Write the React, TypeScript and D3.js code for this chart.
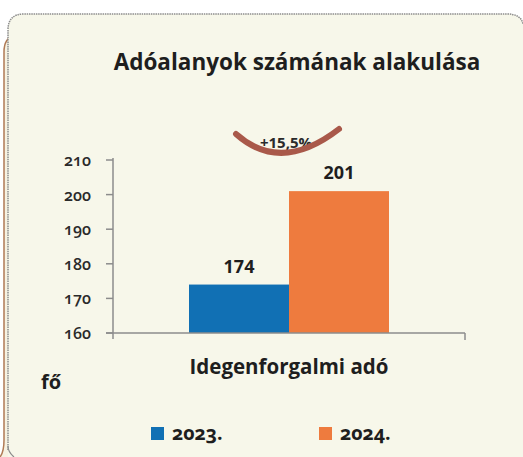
import React from 'react';
import * as d3 from 'd3';

// chart data
const categories = ['Idegenforgalmi adó'];
const years = ['2023.', '2024.'];
const values2023 = [174];
const values2024 = [201];
const yTicks = [160, 170, 180, 190, 200, 210];
const changeLabel = '+15,5%';

const colors = ['#1170b4', '#ee7b3e'];
const font = '"Open Sans", Lato, sans-serif';

const App = () => {
  const width = 523;
  const height = 457;
  const margin = { top: 160, right: 58, bottom: 124, left: 113 };

  const yScale = d3.scaleLinear().domain([160, 210]).range([height - margin.bottom, margin.top]);
  const x0 = d3.scaleBand().domain(categories).range([margin.left, width - margin.right]);
  const x1 = d3.scaleBand().domain(years).range([0, x0.bandwidth()]).paddingInner(0).paddingOuter(0.76);

  const series = [values2023, values2024];
  const baseY = yScale(160);
  const cx = x0(categories[0]) + x0.bandwidth() / 2;

  // arc over the bars showing the change
  const arcPath = d3.path();
  arcPath.moveTo(cx - 53, 134);
  arcPath.quadraticCurveTo(cx - 8, 174, cx + 50, 129);

  return (
    <svg width={width} height={height} style={{ position: 'absolute', left: 0, top: 0 }}>
      <rect x={0} y={0} width={width} height={height} fill="#ffffff" />
      {/* outer brown edge of the neighbouring box */}
      <path d="M 14,36 Q 4,38 4,52 L 4,440 Q 4,452 0,457 L 0,457 L 14,457 Z" fill="#f6f2e2" />
      <path d="M 14,36 Q 4,38 4,52 L 4,440 Q 4,452 0,457" fill="none" stroke="#b07a55" strokeWidth={1.5} />
      {/* main panel */}
      <path d="M 8,457 L 8,30 Q 8,14 24,14 L 507,14 Q 521,14 523,24 L 523,457 Z" fill="#f7f7ea" />
      <path d="M 8,450 L 8,30 Q 8,14 24,14 L 507,14 Q 521,14 523,24" fill="none" stroke="#8d8d8d" strokeWidth={1.5} strokeDasharray="1.5 0.8" />
      <path d="M 8,446 Q 8,452 14,457" fill="none" stroke="#8d8d8d" strokeWidth={1.2} />

      <text x={297} y={70} textAnchor="middle" fontFamily={font} fontWeight={700} fontSize={22.5} fill="#1e1e1e">
        Adóalanyok számának alakulása
      </text>

      {/* bars */}
      {series.map((vals, si) =>
        categories.map((c, ci) => {
          const x = x0(c) + x1(years[si]);
          const y = yScale(vals[ci]);
          return (
            <g key={`${si}-${ci}`}>
              <rect x={x} y={y} width={x1.bandwidth()} height={baseY - y} fill={colors[si]} />
              <text x={x + x1.bandwidth() / 2} y={y - 12} textAnchor="middle" fontFamily={font} fontWeight={700} fontSize={18} fill="#1e1e1e">
                {vals[ci]}
              </text>
            </g>
          );
        })
      )}

      {/* y axis */}
      <line x1={margin.left} x2={margin.left} y1={yScale(210) - 2} y2={baseY + 6} stroke="#8c8c8c" strokeWidth={1.5} />
      {yTicks.map((t) => (
        <g key={t}>
          <line x1={margin.left - 7} x2={margin.left} y1={yScale(t)} y2={yScale(t)} stroke="#8c8c8c" strokeWidth={1.5} />
          <text x={91} y={yScale(t) + 6} textAnchor="end" fontFamily={font} fontWeight={600} fontSize={16} fill="#2a2a2a" style={{ fontVariantNumeric: 'oldstyle-nums' }}>
            {t}
          </text>
        </g>
      ))}

      {/* x axis */}
      <line x1={margin.left - 7} x2={width - margin.right} y1={baseY} y2={baseY} stroke="#8c8c8c" strokeWidth={1.5} />
      <line x1={width - margin.right} x2={width - margin.right} y1={baseY} y2={baseY + 7} stroke="#8c8c8c" strokeWidth={1.5} />
      {categories.map((c) => (
        <text key={c} x={x0(c) + x0.bandwidth() / 2} y={374} textAnchor="middle" fontFamily={font} fontWeight={700} fontSize={20.5} fill="#1e1e1e">
          {c}
        </text>
      ))}
      <text x={41} y={389} fontFamily={font} fontWeight={700} fontSize={20} fill="#1e1e1e">
        fő
      </text>

      {/* change marker */}
      <text x={cx - 3} y={148} textAnchor="middle" fontFamily={font} fontWeight={700} fontSize={15} fill="#2a2a2a">
        {changeLabel}
      </text>
      <path d={arcPath.toString()} fill="none" stroke="#a9594a" strokeWidth={6} strokeLinecap="round" />

      {/* legend */}
      {years.map((yr, i) => (
        <g key={yr} transform={`translate(${151 + i * 168}, 427)`}>
          <rect x={0} y={0} width={13} height={13} fill={colors[i]} />
          <text x={21} y={13} fontFamily={font} fontWeight={700} fontSize={19.5} fill="#1e1e1e" style={{ fontVariantNumeric: 'oldstyle-nums' }}>
            {yr}
          </text>
        </g>
      ))}
    </svg>
  );
};

export default App;
